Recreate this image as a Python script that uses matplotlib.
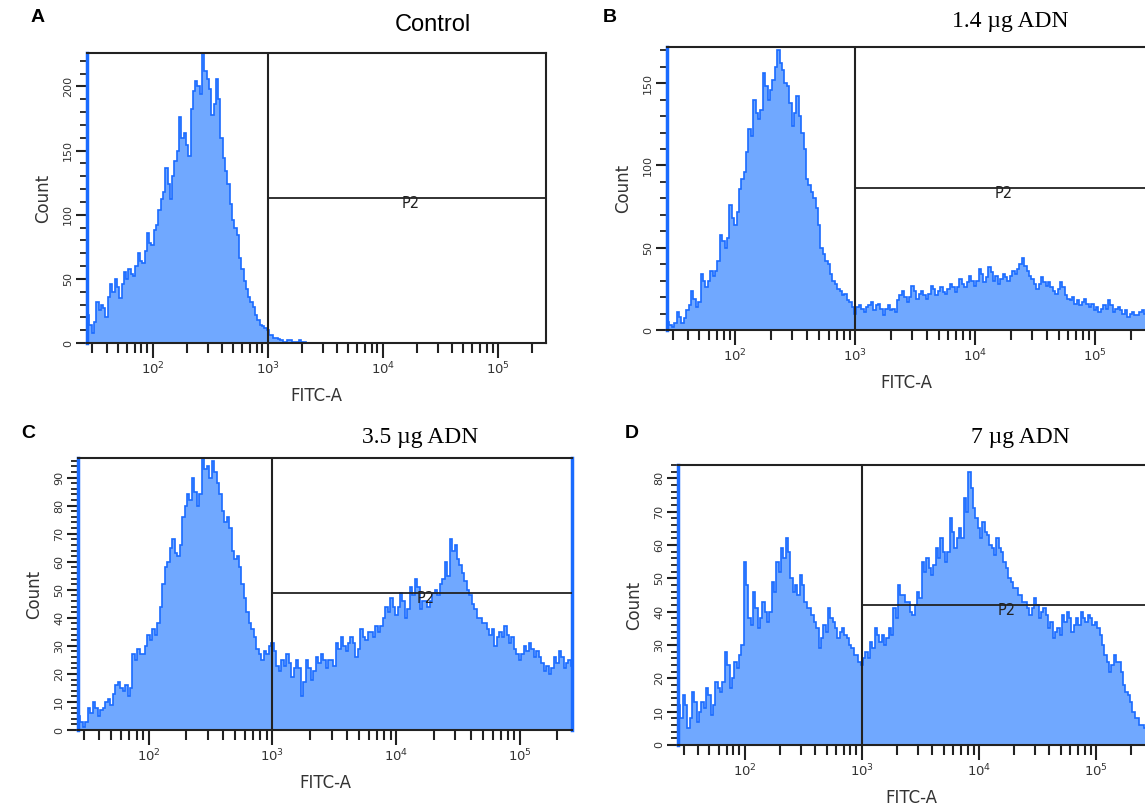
import numpy as np
import matplotlib.pyplot as plt
from matplotlib.ticker import FixedLocator, NullFormatter, FixedFormatter

# counts per log bin, 0.02 decade wide, starting at 10^1.43
counts_a = [22, 14, 8, 16, 32, 26, 30, 27, 20, 36, 46, 40, 50, 44, 35, 46, 55, 50, 58, 54,
            52, 60, 70, 64, 62, 72, 86, 78, 76, 88, 92, 104, 112, 118, 136, 124, 112, 130, 142, 150,
            176, 160, 164, 154, 146, 182, 196, 204, 200, 194, 226, 212, 206, 198, 178, 186, 206, 190, 160, 144,
            134, 124, 108, 96, 90, 84, 66, 58, 48, 42, 36, 32, 28, 22, 18, 14, 13, 12, 10, 6,
            6, 4, 4, 3, 2, 1, 1, 2, 2, 1, 1, 1, 2, 1, 1, 0, 0, 0, 0, 0,
            0, 0, 0, 0, 0, 0, 0, 0, 0, 0, 0, 0, 0, 0, 0, 0, 0, 0, 0, 0,
            0, 0, 0, 0, 0, 0, 0, 0, 0, 0, 0, 0, 0, 0, 0, 0, 0, 0, 0, 0,
            0, 0, 0, 0, 0, 0, 0, 0, 0, 0, 0, 0, 0, 0, 0, 0, 0, 0, 0, 0,
            0, 0, 0, 0, 0, 0, 0, 0, 0, 0, 0, 0, 0, 0, 0, 0, 0, 0, 0, 0,
            0, 0, 0, 0, 0, 0, 0, 0, 0, 0, 0, 0, 0, 0, 0, 0, 0, 0, 0, 0]

counts_b = [5, 3, 2, 4, 11, 8, 4, 7, 12, 15, 24, 19, 14, 17, 34, 30, 26, 30, 36, 33,
            36, 42, 58, 54, 50, 56, 76, 68, 64, 72, 86, 92, 96, 108, 122, 118, 140, 132, 128, 134,
            156, 148, 140, 146, 152, 160, 170, 162, 158, 150, 148, 138, 124, 132, 142, 130, 120, 110, 92, 88,
            84, 80, 74, 64, 50, 46, 42, 40, 34, 30, 28, 25, 24, 21, 22, 18, 17, 14, 10, 14,
            15, 13, 11, 14, 15, 17, 12, 15, 16, 13, 9, 13, 15, 12, 13, 11, 18, 21, 24, 20,
            17, 20, 27, 24, 19, 22, 24, 21, 19, 22, 27, 25, 21, 24, 26, 23, 22, 25, 28, 26,
            23, 26, 31, 28, 26, 29, 33, 30, 27, 30, 37, 34, 29, 32, 38, 35, 30, 33, 28, 31,
            34, 32, 30, 33, 36, 34, 37, 40, 44, 39, 36, 33, 31, 28, 25, 28, 32, 29, 27, 29,
            26, 24, 22, 25, 29, 26, 21, 19, 18, 20, 16, 18, 15, 17, 19, 16, 14, 16, 12, 14,
            11, 13, 15, 13, 18, 15, 11, 13, 14, 12, 10, 12, 8, 10, 11, 9, 9, 11, 12, 10]

counts_c = [5, 3, 1, 3, 8, 6, 10, 8, 5, 7, 8, 10, 11, 9, 13, 16, 17, 15, 14, 16,
            12, 15, 27, 25, 29, 27, 27, 30, 34, 32, 36, 34, 38, 44, 52, 58, 60, 65, 68, 63,
            62, 66, 76, 80, 84, 82, 90, 85, 80, 84, 97, 93, 94, 90, 96, 92, 88, 84, 78, 74,
            76, 72, 64, 61, 62, 58, 52, 47, 42, 38, 36, 33, 29, 27, 25, 28, 27, 30, 31, 28,
            23, 21, 25, 23, 27, 24, 19, 22, 25, 22, 12, 17, 25, 22, 18, 21, 26, 24, 27, 25,
            22, 25, 25, 23, 31, 29, 33, 30, 28, 31, 33, 31, 26, 29, 36, 33, 32, 35, 35, 33,
            37, 35, 37, 40, 44, 42, 47, 44, 41, 44, 49, 46, 40, 43, 51, 48, 54, 51, 43, 46,
            46, 44, 46, 49, 50, 48, 52, 54, 60, 55, 68, 64, 66, 61, 59, 56, 53, 50, 48, 45,
            43, 40, 40, 38, 38, 36, 34, 36, 30, 33, 35, 33, 37, 34, 31, 33, 29, 27, 25, 27,
            30, 28, 31, 29, 26, 28, 26, 24, 21, 23, 20, 22, 26, 24, 28, 26, 22, 24, 25, 23]

counts_d = [12, 8, 15, 12, 5, 8, 16, 13, 7, 10, 13, 11, 17, 15, 9, 12, 19, 17, 16, 19,
            28, 24, 17, 20, 25, 23, 27, 30, 55, 48, 38, 36, 46, 41, 35, 38, 43, 40, 37, 40,
            49, 46, 55, 52, 59, 56, 62, 58, 50, 46, 48, 45, 51, 48, 43, 41, 41, 39, 37, 35,
            29, 32, 36, 34, 41, 38, 37, 35, 32, 34, 35, 33, 32, 30, 29, 27, 27, 25, 24, 26,
            28, 26, 31, 29, 35, 33, 31, 33, 30, 32, 35, 33, 41, 38, 48, 45, 45, 43, 43, 40,
            39, 42, 46, 44, 55, 52, 56, 53, 51, 54, 59, 56, 62, 58, 55, 58, 68, 64, 59, 62,
            65, 62, 74, 70, 82, 77, 71, 68, 65, 62, 67, 64, 63, 60, 59, 57, 62, 59, 58, 55,
            53, 50, 49, 47, 47, 45, 45, 43, 43, 41, 39, 41, 44, 42, 38, 40, 41, 39, 35, 37,
            32, 34, 35, 33, 39, 37, 40, 38, 34, 36, 38, 36, 40, 38, 37, 39, 38, 36, 37, 35,
            33, 30, 27, 25, 22, 24, 27, 25, 25, 22, 18, 16, 15, 13, 10, 8, 8, 6, 6, 5]

panel_letters = ["A", "B", "C", "D"]
titles = ["Control", "1.4 µg ADN", "3.5 µg ADN", "7 µg ADN"]
ymax = [226, 172, 97, 84]
gate_y = [113, 86.5, 49, 42]
ymajor = [[0, 50, 100, 150, 200], [0, 50, 100, 150],
          list(range(0, 100, 10)), list(range(0, 90, 10))]
yminor_step = [10, 10, 2, 2]

fill_col = "#70a8ff"
edge_col = "#1a6bff"

fig = plt.figure(figsize=(11.45, 8.09), dpi=100)

# axes boxes in pixels: left, top, right, bottom
boxes = [(87, 53, 546, 343), (667, 47, 1145, 330),
         (78, 458, 572, 730), (678, 465, 1145, 745)]
W, H = 1145.0, 809.0

all_counts = [counts_a, counts_b, counts_c, counts_d]

for i in range(4):
    l, t, r, b = boxes[i]
    ax = fig.add_axes([l / W, 1 - b / H, (r - l) / W, (b - t) / H])
    ax.set_xscale("log")
    c = all_counts[i]
    edges = 10 ** (1.43 + 0.02 * np.arange(len(c) + 1))
    ax.stairs(c, edges, fill=True, color=fill_col, lw=0)
    ax.stairs(c, edges, color=edge_col, lw=1.2)
    ax.set_xlim(10 ** 1.43, 262144)
    ax.set_ylim(0, ymax[i])

    # gate P2
    ax.plot([1000, 1000], [0, ymax[i]], color="#222222", lw=1.5, zorder=5)
    ax.plot([1000, 262144], [gate_y[i], gate_y[i]], color="#222222", lw=1.3, zorder=5)
    ax.annotate("P2", (10 ** 4.24, gate_y[i]), xytext=(0, -4), textcoords="offset points",
                ha="center", va="center", fontsize=10.5, color="#222222", zorder=6)

    for s in ax.spines.values():
        s.set_color("#222222")
        s.set_linewidth(1.5)
    ax.spines["left"].set_color(edge_col)
    ax.spines["left"].set_linewidth(2.5)
    if i == 2:
        ax.spines["right"].set_color(edge_col)
        ax.spines["right"].set_linewidth(2.5)
    if i in (1, 3):
        ax.spines["right"].set_visible(False)

    # x ticks
    ax.xaxis.set_major_locator(FixedLocator([1e2, 1e3, 1e4, 1e5]))
    ax.xaxis.set_major_formatter(FixedFormatter([r"$10^2$", r"$10^3$", r"$10^4$", r"$10^5$"]))
    minors = [m * 10 ** d for d in range(1, 6) for m in range(2, 10)]
    ax.xaxis.set_minor_locator(FixedLocator(minors))
    ax.xaxis.set_minor_formatter(NullFormatter())
    ax.tick_params(axis="x", which="major", direction="out", length=11, width=1.5,
                   labelsize=9.5, colors="#222222", labelcolor="#333333", pad=2)
    ax.tick_params(axis="x", which="minor", direction="out", length=7, width=1.5,
                   colors="#222222")

    # y ticks
    ax.yaxis.set_major_locator(FixedLocator(ymajor[i]))
    ax.yaxis.set_minor_locator(FixedLocator(list(range(0, ymax[i] + 1, yminor_step[i]))))
    ax.tick_params(axis="y", which="major", direction="out", length=8, width=1.5,
                   labelsize=8, colors="#222222", labelcolor="#333333", pad=2)
    ax.tick_params(axis="y", which="minor", direction="out", length=5, width=1.3,
                   colors="#222222")
    for lab in ax.get_yticklabels():
        lab.set_rotation(90)
        lab.set_va("center")

    ax.set_xlabel("FITC-A", fontsize=12, color="#333333", labelpad=7)
    ax.set_ylabel("Count", fontsize=12, color="#333333", labelpad=8)

# panel letters and titles
letter_pos = [(38, 18), (610, 18), (28, 433), (632, 434)]
title_pos = [(433, 25), (1010, 22), (420, 437), (1020, 437)]
for i in range(4):
    fig.text(letter_pos[i][0] / W, 1 - letter_pos[i][1] / H, panel_letters[i],
             fontsize=14, fontweight="bold", ha="center", va="center",
             family="Liberation Sans")
    if i == 0:
        fig.text(title_pos[i][0] / W, 1 - title_pos[i][1] / H, titles[i],
                 fontsize=17, ha="center", va="center", family="Liberation Sans")
    else:
        fig.text(title_pos[i][0] / W, 1 - title_pos[i][1] / H, titles[i],
                 fontsize=17, ha="center", va="center", family="Liberation Serif")

fig.savefig("out.png", dpi=100)
